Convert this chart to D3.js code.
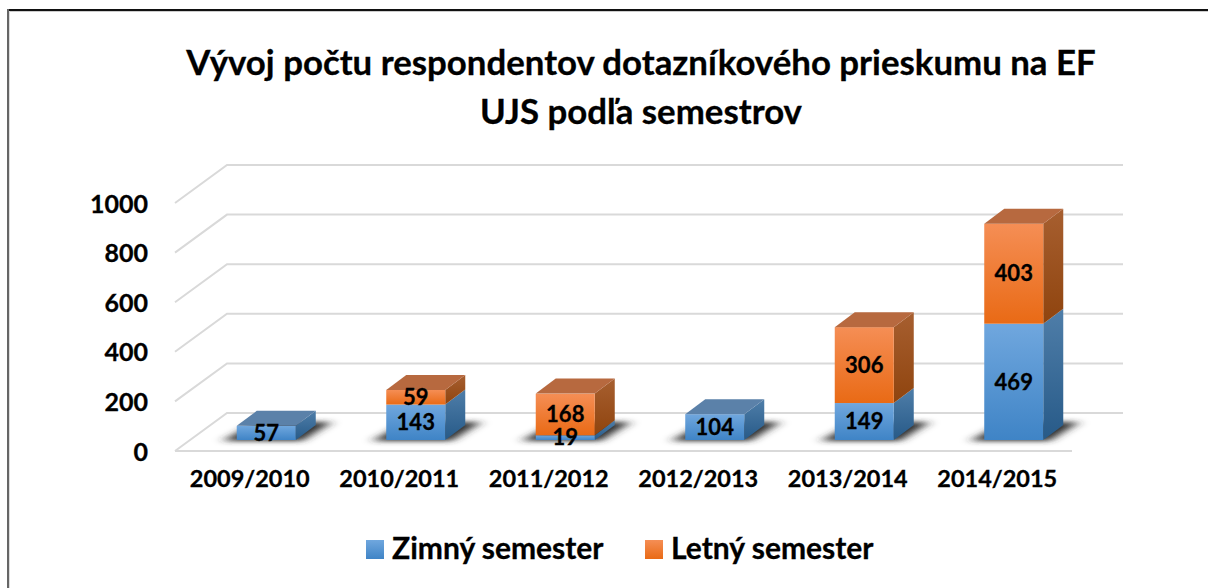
<!DOCTYPE html>
<html lang="sk">
<head>
<meta charset="utf-8">
<title>Vývoj počtu respondentov</title>
<script src="https://d3js.org/d3.v7.min.js"></script>
<style>
  html, body { margin: 0; padding: 0; background: #fff; }
  svg { display: block; }
  text { font-family: Lato, "Open Sans", sans-serif; font-weight: 700; fill: #000; stroke: #000; stroke-width: 0.3; }
</style>
</head>
<body>
<svg width="1208" height="588"></svg>
<script>
// data
var years = ["2009/2010", "2010/2011", "2011/2012", "2012/2013", "2013/2014", "2014/2015"];
var zimny = [57, 143, 19, 104, 149, 469];
var letny = [0, 59, 168, 0, 306, 403];
var seriesNames = ["Zimný semester", "Letný semester"];
var yTicks = [0, 200, 400, 600, 800, 1000];
var titleLines = ["Vývoj počtu respondentov dotazníkového prieskumu na EF", "UJS podľa semestrov"];

var svg = d3.select("svg");
var defs = svg.append("defs");

function grad(id, top, bottom) {
  var g = defs.append("linearGradient").attr("id", id)
    .attr("x1", 0).attr("y1", 0).attr("x2", 0).attr("y2", 1);
  g.append("stop").attr("offset", "0%").attr("stop-color", top);
  g.append("stop").attr("offset", "100%").attr("stop-color", bottom);
}
grad("blueFront", "#70a7de", "#3f84c6");
grad("blueSide", "#4f7ea9", "#275a88");
grad("orangeFront", "#f58e55", "#e96a15");
grad("orangeSide", "#a75f30", "#8f440e");
defs.append("filter").attr("id", "soft")
  .attr("x", "-40%").attr("y", "-60%").attr("width", "180%").attr("height", "220%")
  .append("feGaussianBlur").attr("stdDeviation", "6 2.6");

// frame: top and left edges only, the rest is cut off
svg.append("rect").attr("x", 7).attr("y", 9).attr("width", 1201).attr("height", 2).attr("fill", "#111");
svg.append("rect").attr("x", 7).attr("y", 11).attr("width", 1201).attr("height", 1).attr("fill", "#ccc");
svg.append("rect").attr("x", 7).attr("y", 9).attr("width", 2).attr("height", 579).attr("fill", "#666");
svg.append("rect").attr("x", 9).attr("y", 11).attr("width", 1).attr("height", 577).attr("fill", "#ddd");

// title
svg.append("g").selectAll("text").data(titleLines).enter().append("text")
  .attr("x", 641)
  .attr("y", function(d, i) { return 75 + i * 49; })
  .attr("text-anchor", "middle")
  .attr("font-size", 34.8)
  .text(function(d) { return d; });

// scales: x and y are on the front plane of the floor
var x = d3.scaleBand().domain(years).range([175, 1072]);
var y = d3.scaleLinear().domain([0, 1000]).range([451, 203]);
var backDx = 52, backDy = -38;   // back wall shift
var barDx = 16.5, barDy = -11;   // bar front shift from floor edge
var depthDx = 20, depthDy = -15; // bar depth
var barW = 59;

// grid: floor edge, left wall, back wall
var grid = svg.append("g").attr("fill", "none").attr("stroke", "#d9d9d9").attr("stroke-width", 2);
grid.selectAll("path").data(yTicks).enter().append("path")
  .attr("d", function(d) {
    var p = d3.path();
    p.moveTo(x.range()[0], y(d));
    p.lineTo(x.range()[0] + backDx, y(d) + backDy);
    p.lineTo(x.range()[1] + backDx - 1, y(d) + backDy);
    return p.toString();
  });
grid.append("line")
  .attr("x1", x.range()[0]).attr("x2", x.range()[1])
  .attr("y1", y(0)).attr("y2", y(0));

// axes
var yAxis = svg.append("g").attr("transform", "translate(156,1)")
  .call(d3.axisLeft(y).tickValues(yTicks).tickFormat(d3.format("d")).tickSize(0).tickPadding(8));
yAxis.select(".domain").remove();
yAxis.selectAll("text").attr("font-size", 25).attr("font-family", null);

var xAxis = svg.append("g").attr("transform", "translate(0,470)")
  .call(d3.axisBottom(x).tickSize(0).tickPadding(0));
xAxis.select(".domain").remove();
xAxis.selectAll("text").attr("font-size", 23.5).attr("font-family", null);

// stacked rows
var rows = years.map(function(yr, i) { return { year: yr, z: zimny[i], l: letny[i] }; });
var stack = d3.stack().keys(["z", "l"])(rows);
var h = function(v) { return y(0) - y(v); };
var base = y(0) + barDy;
function left(d) { return x(d.data.year) + (x.bandwidth() - barW) / 2 + barDx; }
function py(v) { return base - h(v); }

// shadows on the floor
svg.append("g").selectAll("polygon").data(stack[0]).enter().append("polygon")
  .attr("filter", "url(#soft)")
  .attr("fill", "#2e2e2e")
  .attr("points", function(d) {
    var a = left(d);
    return [[a - 14, base + 1], [a + barW + 6, base + 1], [a + barW + 36, base - 18], [a + 20, base - 18]].join(" ");
  });

// bars, one layer per series
var names = ["blue", "orange"];
var topColors = ["#5b81a9", "#b7693f"];
stack.forEach(function(layer, s) {
  var g = svg.append("g");
  var shown = layer.filter(function(d) { return d[1] > d[0]; });

  g.selectAll(".side").data(shown).enter().append("polygon")
    .attr("fill", "url(#" + names[s] + "Side)")
    .attr("points", function(d) {
      var a = left(d) + barW;
      return [[a, py(d[0])], [a + depthDx, py(d[0]) + depthDy], [a + depthDx, py(d[1]) + depthDy], [a, py(d[1])]].join(" ");
    });

  g.selectAll(".front").data(shown).enter().append("rect")
    .attr("fill", "url(#" + names[s] + "Front)")
    .attr("x", left)
    .attr("y", function(d) { return py(d[1]); })
    .attr("width", barW)
    .attr("height", function(d) { return py(d[0]) - py(d[1]); });
});

// top faces only where the stack ends
svg.append("g").selectAll("polygon").data(rows).enter().append("polygon")
  .attr("fill", function(d) { return d.l > 0 ? topColors[1] : topColors[0]; })
  .attr("points", function(d) {
    var a = left({ data: d }), t = py(d.z + d.l);
    return [[a, t], [a + barW, t], [a + barW + depthDx, t + depthDy], [a + depthDx, t + depthDy]].join(" ");
  });

// value labels
stack.forEach(function(layer) {
  svg.append("g").selectAll("text")
    .data(layer.filter(function(d) { return d[1] > d[0]; })).enter().append("text")
    .attr("x", function(d) { return left(d) + barW / 2; })
    .attr("y", function(d) { return (py(d[0]) + py(d[1])) / 2; })
    .attr("dy", "0.35em")
    .attr("text-anchor", "middle")
    .attr("font-size", 22)
    .text(function(d) { return d[1] - d[0]; });
});

// legend
var legendX = [366, 645];
var legend = svg.append("g").selectAll("g").data(seriesNames).enter().append("g")
  .attr("transform", function(d, i) { return "translate(" + legendX[i] + ",540)"; });
legend.append("rect").attr("width", 18).attr("height", 19)
  .attr("fill", function(d, i) { return "url(#" + names[i] + "Front)"; });
legend.append("text").attr("x", 26).attr("y", 19)
  .attr("font-size", 30)
  .text(function(d) { return d; });
</script>
</body>
</html>
